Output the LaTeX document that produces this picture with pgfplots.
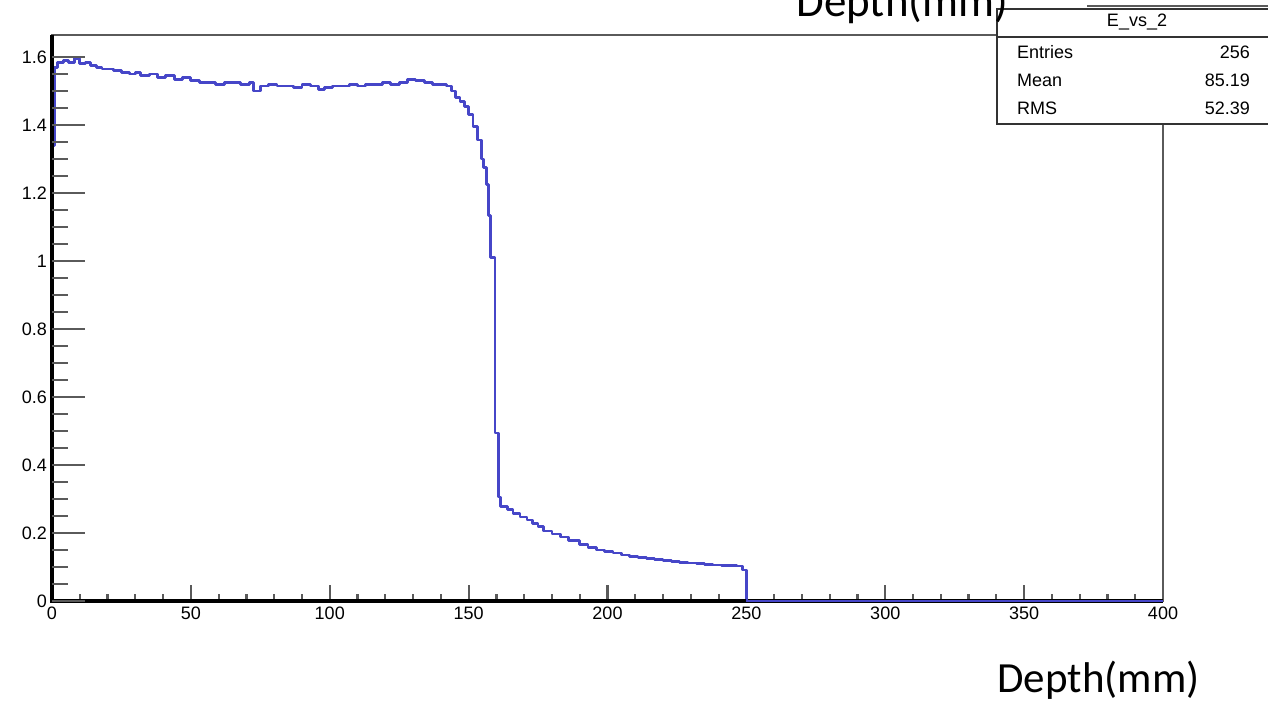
\documentclass[border=0pt]{standalone}
\usepackage{pgfplots}
\pgfplotsset{compat=1.18}
\usepackage{fontspec}
\setmainfont{Liberation Sans}
\newfontfamily\carlito{Carlito}
\definecolor{histblue}{RGB}{70,70,200}
\definecolor{tickgray}{RGB}{90,90,90}
\pgfplotstableread{
x y
0 1.34
0.8 1.57
2 1.585
4 1.59
6 1.585
8 1.595
10 1.58
12 1.585
14 1.575
16 1.57
18 1.565
20 1.565
22 1.56
25 1.555
28 1.55
30 1.555
32 1.545
35 1.55
38 1.54
41 1.545
44 1.535
47 1.54
50 1.53
53 1.525
56 1.525
59 1.52
62 1.525
65 1.525
68 1.52
71 1.525
72.5 1.50
75 1.515
78 1.52
81 1.515
84 1.515
87 1.51
90 1.52
93 1.515
96 1.505
98 1.51
101 1.515
104 1.515
107 1.52
110 1.515
113 1.52
116 1.52
119 1.525
122 1.52
125 1.525
128 1.535
131 1.53
134 1.525
137 1.52
140 1.52
142 1.515
143.8 1.50
145.3 1.48
146.9 1.47
148.4 1.455
150 1.43
151.6 1.395
153.1 1.356
154.7 1.30
155.3 1.276
156.3 1.224
157.2 1.135
158.0 1.01
159.5 0.494
160.7 0.306
161.4 0.277
164 0.268
166 0.258
168.5 0.247
171 0.238
173 0.229
175 0.218
177 0.206
180 0.197
183 0.188
186 0.178
190 0.165
193 0.158
196 0.15
199 0.145
202 0.141
205 0.135
208 0.132
211 0.128
214 0.124
217 0.121
220 0.118
223 0.115
226 0.113
229 0.112
232 0.11
235 0.107
238 0.106
241 0.104
244 0.104
246.6 0.103
248.5 0.091
250 0
400 0
}\histdata
\begin{document}
\begin{tikzpicture}
\useasboundingbox (0,0) rectangle (634pt,352pt);
\fill[white] (0,0) rectangle (634pt,352pt);
\clip (0,0) rectangle (634pt,352pt);
% x-ticks axis with data
\begin{axis}[
  at={(26pt,51.5pt)}, anchor=south west,
  scale only axis, width=555.5pt, height=283pt,
  xmin=0, xmax=400, ymin=0, ymax=1.665,
  axis line style={draw=tickgray, line width=0.9pt},
  xtick={0,50,...,400}, minor x tick num=4,
  ytick=\empty,
  xtick pos=bottom,
  tick align=inside,
  major tick length=8pt, minor tick length=3.5pt,
  tick style={draw=tickgray, line width=1.1pt},
  xticklabel style={font=\fontsize{9pt}{10pt}\selectfont, yshift=0.5pt},
  /pgf/number format/assume math mode=true,
  clip=false,
]
\draw[black, line width=1.6pt] (rel axis cs:0,1) -- (rel axis cs:0,0) -- (rel axis cs:1,0);
\addplot[const plot, histblue, line width=1.4pt, line join=round] table[x=x,y=y] {\histdata};
\draw[black, line width=1.6pt] (rel axis cs:0,1) -- (rel axis cs:0,0) -- (rel axis cs:0.625,0);
\end{axis}
% y-ticks axis
\begin{axis}[
  at={(26pt,51.5pt)}, anchor=south west,
  scale only axis, width=555.5pt, height=283pt,
  xmin=0, xmax=400, ymin=0, ymax=1.665,
  axis line style={draw=none},
  xtick=\empty,
  ytick={0,0.2,...,1.6}, minor y tick num=3,
  ytick pos=left,
  tick align=inside,
  major tick length=16.5pt, minor tick length=8pt,
  tick style={draw=tickgray, line width=1.2pt},
  yticklabel style={font=\fontsize{9pt}{10pt}\selectfont, xshift=1pt},
  /pgf/number format/assume math mode=true,
]
\end{axis}
% stats box
\draw[tickgray, line width=1pt] (543.5pt,349pt) -- (640pt,349pt);
\fill[white] (498.5pt,290pt) rectangle (640pt,347.5pt);
\draw[black!80, line width=1.2pt] (640pt,347.5pt) -- (498.5pt,347.5pt) -- (498.5pt,290pt) -- (640pt,290pt);
\draw[black!80, line width=1pt] (498.5pt,333.5pt) -- (640pt,333.5pt);
\node[font=\fontsize{9pt}{10pt}\selectfont] at (568.5pt,341pt) {E\_vs\_2};
\node[font=\fontsize{9pt}{10pt}\selectfont, anchor=west] at (505pt,326pt) {Entries};
\node[font=\fontsize{9pt}{10pt}\selectfont, anchor=west] at (505pt,312pt) {Mean};
\node[font=\fontsize{9pt}{10pt}\selectfont, anchor=west] at (505pt,298pt) {RMS};
\node[font=\fontsize{9pt}{10pt}\selectfont, anchor=east] at (628.5pt,326pt) {256};
\node[font=\fontsize{9pt}{10pt}\selectfont, anchor=east] at (628.5pt,312pt) {85.19};
\node[font=\fontsize{9pt}{10pt}\selectfont, anchor=east] at (628.5pt,298pt) {52.39};
% axis titles
\node[font=\carlito\fontsize{21.5pt}{24pt}\selectfont, anchor=base west, inner sep=0pt] at (498.5pt,5.5pt) {Depth(mm)};
\node[font=\carlito\fontsize{22.5pt}{24pt}\selectfont, anchor=base west, inner sep=0pt] at (398pt,343.5pt) {Depth(mm)};
\end{tikzpicture}
\end{document}
